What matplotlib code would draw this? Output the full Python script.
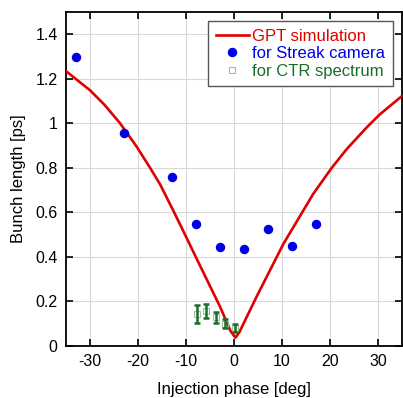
import matplotlib
matplotlib.use("Agg")
import matplotlib.pyplot as plt

plt.rcParams['font.family'] = ['Liberation Sans', 'DejaVu Sans']
plt.rcParams['axes.unicode_minus'] = False

# GPT simulation curve
sim_x = [-35, -30, -27, -23.75, -20.3, -17.5, -15.4, -12.6, -10, -8.1, -5, -2.9,
         -1.5, -0.7, 0.3, 1.1, 2, 4.7, 7.5, 10.3, 13.4, 16.5, 20.35, 23.5, 27.6, 30.4, 35]
sim_y = [1.234, 1.148, 1.083, 1.00, 0.895, 0.80, 0.725, 0.605, 0.49, 0.405, 0.268, 0.175,
         0.105, 0.065, 0.036, 0.06, 0.10, 0.22, 0.339, 0.458, 0.57, 0.682, 0.799, 0.884, 0.98, 1.04, 1.122]

# Streak camera points
streak_x = [-33, -23, -13, -8, -3, 2, 7, 12, 17]
streak_y = [1.297, 0.957, 0.76, 0.549, 0.442, 0.434, 0.525, 0.447, 0.549]

# CTR spectrum points
ctr_x = [-7.8, -5.8, -3.8, -1.8, 0.2]
ctr_y = [0.142, 0.155, 0.128, 0.099, 0.078]
ctr_err = [0.04, 0.032, 0.024, 0.019, 0.018]

fig = plt.figure(figsize=(4.03, 3.98), dpi=100)
ax = fig.add_axes([0.1638, 0.1314, 0.8337, 0.8386])

ax.grid(True, color='#d9d9d9', linewidth=0.8, zorder=0)
ax.set_axisbelow(True)

ax.plot(sim_x, sim_y, color='#e00000', linewidth=1.9, label='GPT simulation', zorder=3)
ax.plot(streak_x, streak_y, 'o', color='#0000e6', markersize=5.8, linestyle='none',
        label='for Streak camera', zorder=4)
ax.plot(ctr_x, ctr_y, 's', markerfacecolor='none', markeredgecolor='#9cbf9c',
        markersize=5, markeredgewidth=0.8, linestyle='none', label='for CTR spectrum', zorder=4)
ax.errorbar(ctr_x, ctr_y, yerr=ctr_err, fmt='none', ecolor='#1a6e2a', elinewidth=1.8,
            capsize=2.5, capthick=1.8, zorder=5)

ax.set_xlim(-35, 35)
ax.set_ylim(0, 1.5)
ax.set_xticks([-30, -20, -10, 0, 10, 20, 30])
ax.set_yticks([0, 0.2, 0.4, 0.6, 0.8, 1.0, 1.2, 1.4])
ax.set_yticklabels(['0', '0.2', '0.4', '0.6', '0.8', '1', '1.2', '1.4'])
ax.tick_params(direction='in', top=True, right=True, length=5, width=1.2,
               labelsize=11.5, pad=6, color='black')
for s in ax.spines.values():
    s.set_linewidth(1.3)
    s.set_color('black')

ax.set_xlabel('Injection phase [deg]', fontsize=12, labelpad=9)
ax.set_ylabel('Bunch length [ps]', fontsize=12, labelpad=7)

leg = ax.legend(loc='upper right', fontsize=12, frameon=True, fancybox=False,
                edgecolor='#555555', framealpha=1, borderaxespad=0.55,
                handlelength=2.0, handletextpad=0.2, labelspacing=0.15,
                borderpad=0.45)
leg.get_frame().set_linewidth(1.0)
for t, c in zip(leg.get_texts(), ['#e00000', '#0000e6', '#1a6e2a']):
    t.set_color(c)

fig.savefig('out.png', dpi=100)
